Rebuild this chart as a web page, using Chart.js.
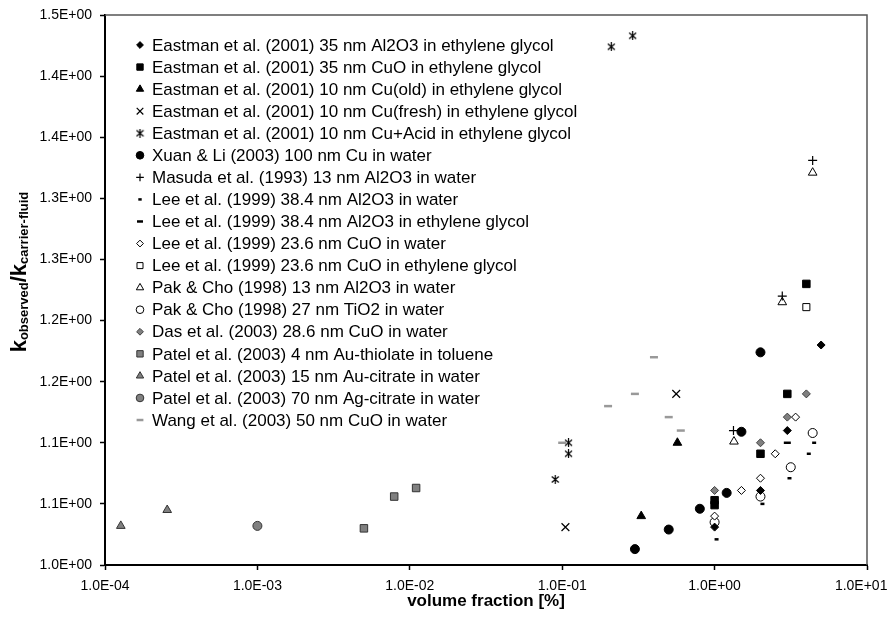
<!DOCTYPE html>
<html>
<head>
<meta charset="utf-8">
<script src="https://cdn.jsdelivr.net/npm/chart.js@4.4.1/dist/chart.umd.min.js"></script>
<style>
  html, body { margin: 0; padding: 0; background: #fff; }
  #wrap { width: 889px; height: 625px; position: relative; }
</style>
</head>
<body>
<div id="wrap"><canvas id="chart"></canvas></div>
<script>
// each series: [volume fraction %, k_observed / k_carrier-fluid]
var eastmanAl2O3EG = [[1.0,1.031],[2.0,1.061],[3.0,1.110],[5.0,1.180]];
var eastmanCuOEG = [[1.0,1.049],[1.0,1.053],[2.0,1.091],[3.0,1.140],[4.0,1.230]];
var eastmanCuOld = [[0.33,1.040],[0.57,1.100]];
var eastmanCuFresh = [[0.105,1.031],[0.56,1.140]];
var eastmanCuAcid = [[0.09,1.070],[0.11,1.091],[0.11,1.100],[0.21,1.424],[0.29,1.433]];
var xuanLi = [[0.3,1.013],[0.5,1.029],[0.8,1.046],[1.2,1.059],[1.5,1.109],[2.0,1.174]];
var masuda = [[1.33,1.110],[2.78,1.220],[4.4,1.331]];
var leeAl2O3Water = [[1.03,1.021],[2.06,1.050],[3.1,1.071],[4.15,1.091],[4.5,1.100]];
var leeAl2O3EG = [[3.0,1.100]];
var leeCuOWater = [[1.0,1.040],[1.5,1.061],[2.0,1.071],[2.5,1.091],[3.4,1.121]];
var leeCuOEG = [[4.0,1.211]];
var pakAl2O3 = [[1.34,1.101],[2.78,1.215],[4.4,1.321]];
var pakTiO2 = [[1.0,1.035],[2.0,1.056],[3.16,1.080],[4.4,1.108]];
var dasCuO = [[1.0,1.061],[2.0,1.100],[3.0,1.121],[4.0,1.140]];
var patelAuThiolate = [[0.005,1.030],[0.0079,1.056],[0.011,1.063]];
var patelAuCitrate = [[0.000127,1.032],[0.000256,1.045]];
var patelAgCitrate = [[0.001,1.032]];
var wangCuO = [[0.1,1.100],[0.2,1.130],[0.3,1.140],[0.4,1.170],[0.5,1.121],[0.6,1.110]];

var xTickValues = [1e-4, 1e-3, 1e-2, 1e-1, 1, 10];
var xTickLabels = ['1.0E-04','1.0E-03','1.0E-02','1.0E-01','1.0E+00','1.0E+01'];
var yTickValues = [1.00, 1.05, 1.10, 1.15, 1.20, 1.25, 1.30, 1.35, 1.40, 1.45];
var yTickLabels = ['1.0E+00','1.1E+00','1.1E+00','1.2E+00','1.2E+00','1.3E+00','1.3E+00','1.4E+00','1.4E+00','1.5E+00'];

var FONT = '"Liberation Sans", Arial, sans-serif';

// asterisk marker (x with a vertical bar)
function makeAsterisk(size) {
  var c = document.createElement('canvas');
  c.width = size; c.height = size;
  var g = c.getContext('2d');
  g.strokeStyle = '#000';
  g.lineWidth = 1.2;
  g.beginPath();
  g.moveTo(1, 1.5); g.lineTo(size - 1, size - 1.5);
  g.moveTo(size - 1, 1.5); g.lineTo(1, size - 1.5);
  g.moveTo(size / 2, 0); g.lineTo(size / 2, size);
  g.stroke();
  return c;
}
var asterisk = makeAsterisk(9);

function pts(arr) {
  return arr.map(function (p) { return { x: p[0], y: p[1] }; });
}

function series(label, data, style, r, bg, border, bw) {
  return {
    label: label,
    data: pts(data),
    showLine: false,
    pointStyle: style,
    pointRadius: r,
    pointHoverRadius: r,
    backgroundColor: bg,
    borderColor: border,
    borderWidth: bw
  };
}

var datasets = [
  series('Eastman et al. (2001) 35 nm Al2O3 in ethylene glycol', eastmanAl2O3EG, 'rectRot', 4, '#000', '#000', 1),
  series('Eastman et al. (2001) 35 nm CuO in ethylene glycol', eastmanCuOEG, 'rect', 5.3, '#000', '#000', 1),
  series('Eastman et al. (2001) 10 nm Cu(old) in ethylene glycol', eastmanCuOld, 'triangle', 5, '#000', '#000', 1),
  series('Eastman et al. (2001) 10 nm Cu(fresh) in ethylene glycol', eastmanCuFresh, 'crossRot', 5.5, '#000', '#000', 1.2),
  series('Eastman et al. (2001) 10 nm Cu+Acid in ethylene glycol', eastmanCuAcid, asterisk, 4.5, '#000', '#000', 1),
  series('Xuan & Li (2003) 100 nm Cu in water', xuanLi, 'circle', 4.5, '#000', '#000', 1),
  series('Masuda et al. (1993) 13 nm Al2O3 in water', masuda, 'cross', 4.5, '#000', '#000', 1.2),
  series('Lee et al. (1999) 38.4 nm Al2O3 in water', leeAl2O3Water, 'line', 2, '#000', '#000', 2.5),
  series('Lee et al. (1999) 38.4 nm Al2O3 in ethylene glycol', leeAl2O3EG, 'line', 3.5, '#000', '#000', 2.5),
  series('Lee et al. (1999) 23.6 nm CuO in water', leeCuOWater, 'rectRot', 4, '#fff', '#000', 1),
  series('Lee et al. (1999) 23.6 nm CuO in ethylene glycol', leeCuOEG, 'rect', 5, '#fff', '#000', 1),
  series('Pak & Cho (1998) 13 nm Al2O3 in water', pakAl2O3, 'triangle', 5, '#fff', '#000', 1),
  series('Pak & Cho (1998) 27 nm TiO2 in water', pakTiO2, 'circle', 4.5, '#fff', '#000', 1),
  series('Das et al. (2003) 28.6 nm CuO in water', dasCuO, 'rectRot', 4, '#808080', '#404040', 1),
  series('Patel et al. (2003) 4 nm Au-thiolate in toluene', patelAuThiolate, 'rect', 5.3, '#808080', '#333', 1),
  series('Patel et al. (2003) 15 nm Au-citrate in water', patelAuCitrate, 'triangle', 5, '#808080', '#333', 1),
  series('Patel et al. (2003) 70 nm Ag-citrate in water', patelAgCitrate, 'circle', 4.5, '#808080', '#333', 1),
  series('Wang et al. (2003) 50 nm CuO in water', wangCuO, 'line', 4, '#999', '#999', 2.5)
];

// legend inside the plot, frame lines and axis titles
var decorPlugin = {
  id: 'decor',
  beforeDatasetsDraw: function (chart) {
    var ctx = chart.ctx, a = chart.chartArea;
    ctx.save();
    ctx.strokeStyle = '#555';
    ctx.lineWidth = 1.5;
    ctx.beginPath();
    ctx.moveTo(a.left, a.top);
    ctx.lineTo(a.right, a.top);
    ctx.lineTo(a.right, a.bottom);
    ctx.stroke();
    ctx.restore();
  },
  afterDraw: function (chart) {
    var ctx = chart.ctx, a = chart.chartArea;
    ctx.save();
    // legend
    chart.data.datasets.forEach(function (ds, i) {
      var y = 45 + i * 22.06;
      ctx.fillStyle = ds.backgroundColor;
      ctx.strokeStyle = ds.borderColor;
      ctx.lineWidth = ds.borderWidth;
      Chart.helpers.drawPoint(ctx, {
        pointStyle: ds.pointStyle, radius: ds.pointRadius * 0.85, rotation: 0, borderWidth: ds.borderWidth
      }, 140, y);
      ctx.fillStyle = '#000';
      ctx.font = '17px ' + FONT;
      ctx.textAlign = 'left';
      ctx.textBaseline = 'middle';
      ctx.fillText(ds.label, 152, y + 1);
    });
    // x title
    ctx.font = 'bold 17px ' + FONT;
    ctx.textAlign = 'center';
    ctx.textBaseline = 'middle';
    ctx.fillText('volume fraction [%]', (a.left + a.right) / 2, 601);
    // y title with subscripts
    var parts = [['k', 22, 0], ['observed', 13, 2], ['/', 22, 0], ['k', 22, 0], ['carrier-fluid', 13, 2]];
    var total = 0;
    parts.forEach(function (p) { ctx.font = 'bold ' + p[1] + 'px ' + FONT; p.push(ctx.measureText(p[0]).width); total += p[3]; });
    ctx.translate(26, 272);
    ctx.rotate(-Math.PI / 2);
    ctx.textAlign = 'left';
    ctx.textBaseline = 'alphabetic';
    var x = -total / 2;
    parts.forEach(function (p) {
      ctx.font = 'bold ' + p[1] + 'px ' + FONT;
      ctx.fillText(p[0], x, p[2]);
      x += p[3];
    });
    ctx.restore();
  }
};

new Chart(document.getElementById('chart'), {
  type: 'scatter',
  data: { datasets: datasets },
  plugins: [decorPlugin],
  options: {
    responsive: true,
    maintainAspectRatio: false,
    animation: false,
    layout: { padding: { left: 0, right: 22, top: 15, bottom: 0 } },
    plugins: { legend: { display: false }, tooltip: { enabled: false } },
    scales: {
      x: {
        type: 'logarithmic',
        min: 1e-4,
        max: 10,
        afterBuildTicks: function (scale) {
          scale.ticks = xTickValues.map(function (v) { return { value: v }; });
        },
        afterFit: function (scale) {
          scale.height = 60;
          scale.paddingLeft = 0;
          scale.paddingRight = 0;
        },
        ticks: {
          autoSkip: false,
          maxRotation: 0,
          padding: 8,
          color: '#000',
          font: { family: FONT, size: 14 },
          // last label nudged left so it stays inside the canvas
          callback: function (v, i) { return xTickLabels[i] + (i === xTickLabels.length - 1 ? '   ' : ''); }
        },
        grid: { drawOnChartArea: false, drawTicks: true, tickLength: 5, tickColor: '#000', tickWidth: 1.5 },
        border: { display: true, color: '#000', width: 2 }
      },
      y: {
        type: 'linear',
        min: 1.0,
        max: 1.45,
        afterBuildTicks: function (scale) {
          scale.ticks = yTickValues.map(function (v) { return { value: v }; });
        },
        afterFit: function (scale) {
          scale.width = 105;
          scale.paddingTop = 0;
          scale.paddingBottom = 0;
        },
        ticks: {
          autoSkip: false,
          padding: 8,
          color: '#000',
          font: { family: FONT, size: 14 },
          callback: function (v, i) { return yTickLabels[i]; }
        },
        grid: { drawOnChartArea: false, drawTicks: true, tickLength: 5, tickColor: '#000', tickWidth: 1.5 },
        border: { display: true, color: '#000', width: 2 }
      }
    }
  }
});
</script>
</body>
</html>
